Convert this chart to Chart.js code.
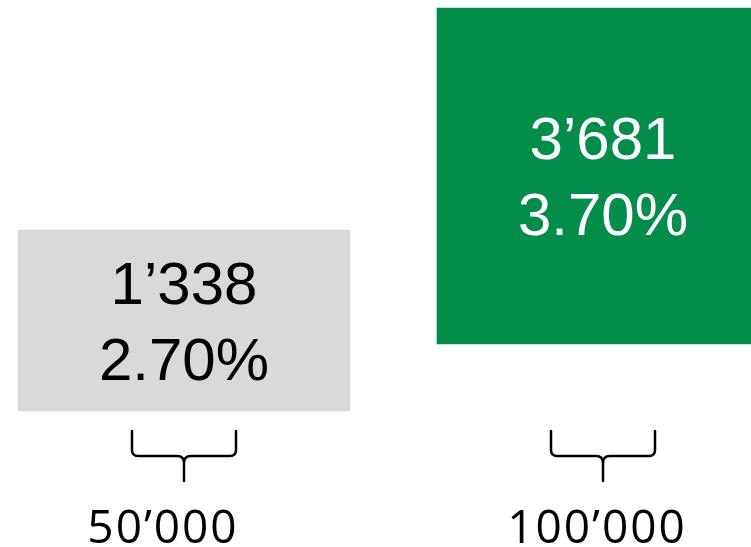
<!DOCTYPE html>
<html>
<head>
<meta charset="utf-8">
<script src="https://cdn.jsdelivr.net/npm/chart.js@4.4.0/dist/chart.umd.min.js"></script>
<style>
  html, body { margin: 0; padding: 0; background: #ffffff; }
  #wrap { width: 751px; height: 547px; position: relative; }
</style>
</head>
<body>
<div id="wrap"><canvas id="boxChart"></canvas></div>
<script>
// groups shown on the slide
const groupLabels = ["50’000", "100’000"];
const groupPos = [1, 2];
// floating box ranges (arbitrary vertical units, bottom -> top)
const boxLow = [136, 203];
const boxHigh = [317, 539];
// numbers printed in the boxes
const counts = ["1’338", "3’681"];
const rates = ["2.70%", "3.70%"];

const boxColors = ["#d9d9d9", "#028d4c"];
const textColors = ["#000000", "#ffffff"];
const labelShift = [-21, -6]; // labels sit a little left of the brace

// draws the numbers inside the boxes, the braces and the group labels
const annotations = {
  id: "annotations",
  afterDatasetsDraw(chart) {
    const ctx = chart.ctx;
    const bars = chart.getDatasetMeta(0).data;
    const area = chart.chartArea;

    ctx.save();
    bars.forEach((bar, i) => {
      const cx = bar.x;
      const cy = (bar.y + bar.base) / 2;

      // value + rate
      ctx.fillStyle = textColors[i];
      ctx.font = "60px 'Liberation Sans', Arial, sans-serif";
      ctx.textAlign = "center";
      ctx.textBaseline = "alphabetic";
      ctx.fillText(counts[i], cx, cy - 38 + 21);
      ctx.fillText(rates[i], cx, cy + 38 + 21);

      // brace
      const top = area.bottom - 116;
      const mid = area.bottom - 91;
      const tip = area.bottom - 66;
      const half = 52;
      ctx.strokeStyle = "#000000";
      ctx.lineWidth = 2.5;
      ctx.lineCap = "round";
      ctx.lineJoin = "round";
      ctx.beginPath();
      ctx.moveTo(cx - half, top);
      ctx.lineTo(cx - half, mid - 6);
      ctx.quadraticCurveTo(cx - half, mid, cx - half + 6, mid);
      ctx.lineTo(cx - 7, mid);
      ctx.quadraticCurveTo(cx, mid, cx, mid + 7);
      ctx.lineTo(cx, tip);
      ctx.moveTo(cx + half, top);
      ctx.lineTo(cx + half, mid - 6);
      ctx.quadraticCurveTo(cx + half, mid, cx + half - 6, mid);
      ctx.lineTo(cx + 7, mid);
      ctx.quadraticCurveTo(cx, mid, cx, mid + 7);
      ctx.stroke();

      // group label
      ctx.fillStyle = "#000000";
      ctx.font = "46px 'Open Sans', sans-serif";
      ctx.letterSpacing = "2px";
      ctx.fillText(groupLabels[i], cx + labelShift[i], area.bottom - 4);
      ctx.letterSpacing = "0px";
    });
    ctx.restore();
  },
};

const ctx = document.getElementById("boxChart").getContext("2d");

new Chart(ctx, {
  type: "bar",
  data: {
    datasets: [
      {
        data: groupPos.map((x, i) => ({ x: x, y: [boxLow[i], boxHigh[i]] })),
        backgroundColor: boxColors,
        borderWidth: 0,
        barThickness: 332,
      },
    ],
  },
  options: {
    responsive: true,
    maintainAspectRatio: false,
    animation: false,
    layout: { padding: 0 },
    plugins: {
      legend: { display: false },
      tooltip: { enabled: false },
    },
    scales: {
      x: {
        type: "linear",
        display: false,
        offset: false,
        min: 0.5609,
        max: 2.3532,
      },
      y: {
        display: false,
        min: 0,
        max: 547,
      },
    },
  },
  plugins: [annotations],
});
</script>
</body>
</html>
